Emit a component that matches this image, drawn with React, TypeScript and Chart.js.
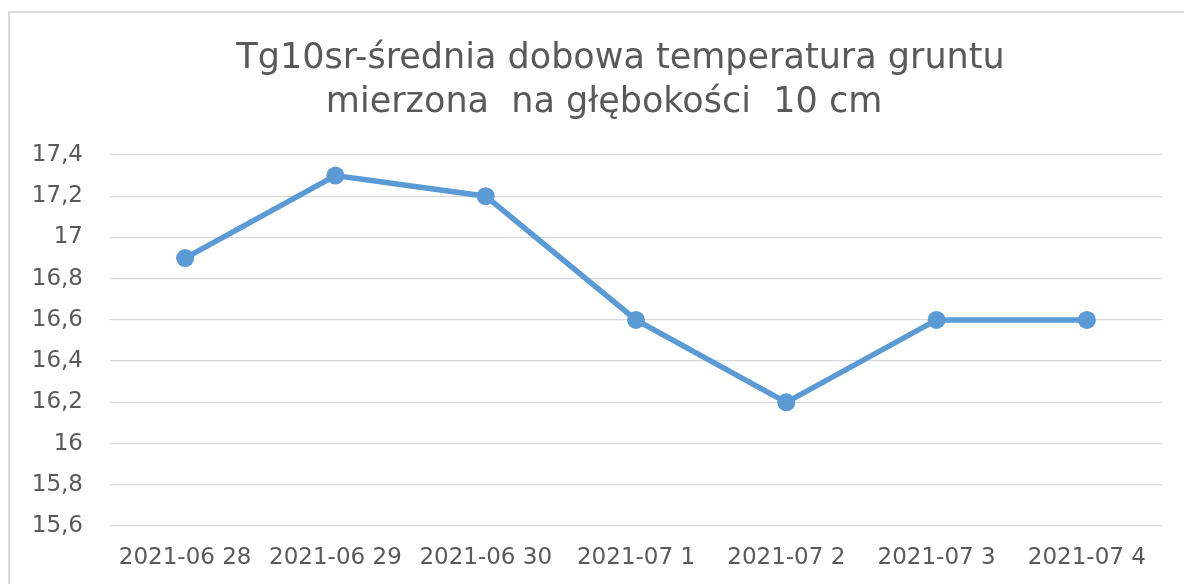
import React, { useEffect, useRef } from "react";
import { Chart, registerables } from "chart.js";

Chart.register(...registerables);

const titleLines = ["Tg10sr-średnia dobowa temperatura gruntu", "mierzona  na głębokości  10 cm"];
const categories = ["2021-06 28", "2021-06 29", "2021-06 30", "2021-07 1", "2021-07 2", "2021-07 3", "2021-07 4"];
const values = [16.9, 17.3, 17.2, 16.6, 16.2, 16.6, 16.6];
const yMin = 15.6;
const yMax = 17.4;
const yStep = 0.2;

const GRAY = "#595959";
const FONT = "'DejaVu Sans', sans-serif";

const titlePlugin = {
  id: "twoLineTitle",
  afterDraw(chart: any) {
    const ctx = chart.ctx;
    ctx.save();
    ctx.fillStyle = GRAY;
    ctx.font = `35px ${FONT}`;
    ctx.textAlign = "center";
    ctx.textBaseline = "alphabetic";
    const w = chart.width;
    ctx.fillText(titleLines[0], w * 0.52, 55);
    ctx.fillText(titleLines[1], w * 0.506, 99);
    ctx.restore();
  },
};

export default function App() {
  const ref = useRef<HTMLCanvasElement | null>(null);

  useEffect(() => {
    if (!ref.current) return;
    const chart = new Chart(ref.current, {
      type: "line",
      data: {
        labels: categories,
        datasets: [
          {
            data: values,
            borderColor: "#5B9BD5",
            backgroundColor: "#5B9BD5",
            borderWidth: 5.5,
            pointRadius: 9,
            pointHoverRadius: 9,
            pointBackgroundColor: "#5B9BD5",
            pointBorderWidth: 0,
            tension: 0,
          },
        ],
      },
      options: {
        animation: false,
        responsive: false,
        maintainAspectRatio: false,
        layout: { padding: { left: 0, right: 22, top: 142, bottom: 0 } },
        plugins: {
          legend: { display: false },
          tooltip: { enabled: false },
          title: { display: false },
        },
        scales: {
          x: {
            offset: true,
            grid: { display: false, drawTicks: false },
            border: { display: false },
            ticks: {
              color: GRAY,
              font: { family: FONT, size: 23 },
              padding: 18,
              maxRotation: 0,
              autoSkip: false,
            },
            afterFit: (s: any) => {
              s.height = 58;
            },
          },
          y: {
            min: yMin,
            max: yMax,
            grid: { color: "#d9d9d9", lineWidth: 1.3, drawTicks: false },
            border: { display: false },
            ticks: {
              stepSize: yStep,
              color: GRAY,
              font: { family: FONT, size: 23 },
              padding: 27,
              callback: (v: any) => {
                const n = Math.round(Number(v) * 10) / 10;
                return String(n).replace(".", ",");
              },
            },
            afterFit: (s: any) => {
              s.width = 100;
            },
          },
        },
      },
      plugins: [titlePlugin],
    });
    return () => chart.destroy();
  }, []);

  return (
    <div
      style={{
        position: "fixed",
        left: 8,
        top: 11,
        width: 1180,
        height: 580,
        borderTop: "2px solid #d9d9d9",
        borderLeft: "2px solid #d9d9d9",
        background: "#fff",
      }}
    >
      <canvas ref={ref} width={1174} height={571} style={{ display: "block" }} />
    </div>
  );
}
